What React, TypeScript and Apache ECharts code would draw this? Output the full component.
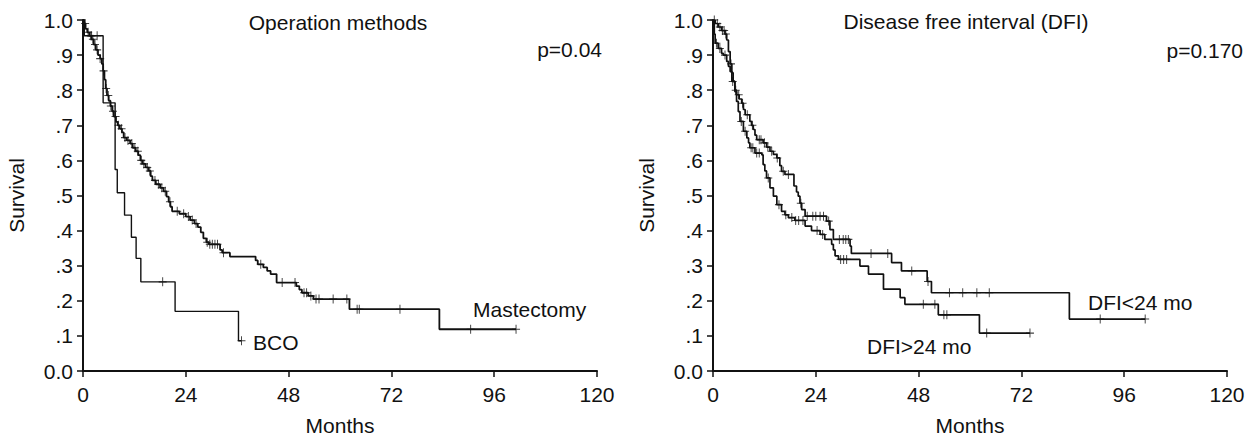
import React, { useEffect, useRef } from "react";
import * as echarts from "echarts";

// ---------- data ----------
const monthTicks = [0, 24, 48, 72, 96, 120];
const survivalTickLabels = ["0.0", ".1", ".2", ".3", ".4", ".5", ".6", ".7", ".8", ".9", "1.0"];

// Operation methods: Mastectomy (time in months, survival after drop)
const mastectomySteps: [number, number][] = [
  [0, 1.0], [0.3, 0.99], [0.6, 0.975], [1.0, 0.965], [1.5, 0.955], [2.0, 0.945], [2.5, 0.93],
  [3.0, 0.915], [3.5, 0.9], [4.0, 0.89], [4.4, 0.875], [4.7, 0.855], [5.0, 0.83], [5.3, 0.805],
  [5.6, 0.785], [6.0, 0.77], [6.4, 0.755], [6.8, 0.74], [7.2, 0.725], [7.7, 0.71], [8.1, 0.7],
  [8.6, 0.69], [9.1, 0.68], [9.5, 0.665], [10.2, 0.657], [11.0, 0.648], [11.6, 0.636], [12.3, 0.626],
  [12.9, 0.615], [13.4, 0.6], [13.9, 0.59], [14.6, 0.58], [15.3, 0.57], [15.8, 0.555], [16.2, 0.543],
  [17.0, 0.532], [18.0, 0.522], [18.8, 0.512], [19.5, 0.497], [20.0, 0.482], [20.4, 0.468],
  [20.8, 0.455], [22.5, 0.448], [24.0, 0.44], [25.0, 0.43], [26.0, 0.42], [26.8, 0.41], [27.5, 0.395],
  [28.1, 0.378], [28.8, 0.367], [29.4, 0.361], [32.0, 0.345], [32.5, 0.337], [34.3, 0.326],
  [40.3, 0.315], [40.8, 0.304], [42.1, 0.295], [43.0, 0.285], [43.8, 0.276], [45.2, 0.252],
  [49.8, 0.242], [50.5, 0.232], [51.1, 0.223], [52.6, 0.214], [53.8, 0.205], [62.2, 0.176],
  [83.2, 0.119], [101.1, 0.119],
];
const mastectomyCensored = [
  0.5, 1.2, 1.8, 2.3, 2.8, 3.3, 4.0, 4.8, 5.4, 5.9, 6.5, 7.0, 7.6, 8.3, 9.0, 9.8, 10.5, 11.4, 12.1,
  12.8, 13.6, 14.2, 15.0, 15.6, 16.8, 17.6, 18.4, 19.2, 20.3, 22.0, 23.5, 24.6, 25.5, 26.4, 29.0,
  29.6, 30.2, 30.8, 31.4, 32.8, 41.5, 46.5, 49.5, 51.6, 52.2, 53.2, 54.4, 55.1, 58.4, 61.6, 64.0,
  64.5, 74.0, 90.5, 101.1,
];

// Operation methods: BCO
const bcoSteps: [number, number][] = [
  [0, 1.0], [0.3, 0.955], [4.7, 0.764], [7.5, 0.574], [8.0, 0.508], [9.7, 0.444], [11.3, 0.381],
  [12.4, 0.321], [13.5, 0.254], [21.5, 0.17], [36.3, 0.086], [37.0, 0.086],
];
const bcoCensored = [2.0, 3.3, 18.6, 37.0];

// Disease free interval: DFI<24 mo
const dfiShortSteps: [number, number][] = [
  [0, 1.0], [0.5, 0.99], [1.2, 0.98], [2.0, 0.97], [2.8, 0.96], [3.2, 0.943], [3.6, 0.91],
  [4.0, 0.875], [4.4, 0.85], [4.7, 0.825], [5.1, 0.8], [5.5, 0.787], [6.1, 0.775], [6.7, 0.763],
  [7.1, 0.745], [7.5, 0.73], [8.6, 0.711], [9.0, 0.7], [9.4, 0.688], [9.8, 0.672], [10.2, 0.659],
  [11.7, 0.65], [12.5, 0.638], [13.3, 0.626], [14.1, 0.617], [14.9, 0.607], [15.6, 0.585],
  [16.0, 0.569], [16.8, 0.56], [18.9, 0.527], [19.5, 0.51], [19.9, 0.498], [20.3, 0.478],
  [20.7, 0.46], [21.5, 0.441], [26.5, 0.427], [27.3, 0.403], [28.1, 0.375], [32.0, 0.356],
  [32.3, 0.335], [41.7, 0.309], [44.0, 0.285], [50.0, 0.255], [51.0, 0.223], [83.2, 0.148],
  [100.9, 0.148],
];
const dfiShortCensored = [
  0.3, 1.0, 1.6, 2.2, 2.6, 3.0, 4.2, 5.3, 6.0, 6.9, 8.0, 9.2, 10.8, 11.2, 12.0, 12.8, 13.7, 15.0,
  16.4, 17.6, 20.5, 22.0, 23.3, 24.0, 25.0, 25.8, 27.0, 29.5, 30.4, 31.0, 31.6, 36.9, 40.8, 46.4,
  50.2, 55.2, 58.3, 61.6, 64.5, 90.4, 100.9,
];

// Disease free interval: DFI>24 mo
const dfiLongSteps: [number, number][] = [
  [0, 1.0], [0.3, 0.96], [0.5, 0.934], [1.2, 0.919], [2.0, 0.905], [2.4, 0.9], [3.2, 0.882],
  [3.6, 0.868], [4.0, 0.853], [4.4, 0.825], [5.1, 0.796], [5.5, 0.768], [5.9, 0.739], [6.3, 0.711],
  [7.1, 0.683], [7.9, 0.664], [8.3, 0.65], [8.6, 0.636], [9.8, 0.621], [11.4, 0.616], [11.7, 0.588],
  [12.1, 0.57], [12.5, 0.55], [13.3, 0.522], [14.1, 0.498], [14.9, 0.474], [16.0, 0.455],
  [16.8, 0.445], [17.6, 0.437], [19.1, 0.429], [21.5, 0.413], [23.0, 0.4], [25.0, 0.389],
  [26.1, 0.375], [27.7, 0.361], [28.1, 0.345], [28.5, 0.328], [29.3, 0.318], [34.3, 0.299],
  [36.3, 0.276], [39.8, 0.233], [43.7, 0.209], [44.8, 0.19], [52.6, 0.16], [62.2, 0.108],
  [74.0, 0.108],
];
const dfiLongCensored = [
  0.8, 1.6, 2.8, 4.6, 6.6, 7.5, 8.9, 9.3, 10.2, 10.8, 12.9, 15.4, 17.0, 18.4, 19.3, 20.0, 21.0,
  24.3, 25.6, 29.8, 30.5, 31.2, 49.1, 51.8, 53.9, 54.6, 63.9, 74.0,
];

// ---------- helpers ----------
const FONT = "'Liberation Sans', Arial, Helvetica, sans-serif";
const FS = 21;
const PLUS =
  "path://M-0.12,-1L0.12,-1L0.12,-0.12L1,-0.12L1,0.12L0.12,0.12L0.12,1L-0.12,1L-0.12,0.12L-1,0.12L-1,-0.12L-0.12,-0.12Z";

function survivalAt(steps: [number, number][], t: number): number {
  let s = steps[0][1];
  for (const [st, sv] of steps) {
    if (st <= t) s = sv;
    else break;
  }
  return s;
}

function curve(steps: [number, number][], idx: number, width: number) {
  return {
    type: "line",
    step: "end",
    xAxisIndex: idx,
    yAxisIndex: idx,
    data: steps,
    showSymbol: false,
    silent: true,
    lineStyle: { color: "#111", width },
    z: 3,
  };
}

function censors(steps: [number, number][], times: number[], idx: number) {
  return {
    type: "scatter",
    xAxisIndex: idx,
    yAxisIndex: idx,
    data: times.map((t) => [t, survivalAt(steps, t)]),
    symbol: PLUS,
    symbolSize: [8, 9],
    itemStyle: { color: "#111" },
    silent: true,
    z: 4,
  };
}

function xAxis(gridIndex: number) {
  return {
    type: "value",
    gridIndex,
    min: 0,
    max: 120,
    interval: 24,
    name: "Months",
    nameLocation: "middle",
    nameGap: 44,
    nameTextStyle: { fontFamily: FONT, fontSize: FS, color: "#111" },
    axisLine: { show: true, onZero: false, lineStyle: { color: "#111", width: 2 } },
    axisTick: { show: true, length: 6, lineStyle: { color: "#111", width: 1.5 } },
    axisLabel: {
      fontFamily: FONT,
      fontSize: FS,
      color: "#111",
      margin: 13,
      formatter: (v: number) => (monthTicks.includes(v) ? String(v) : ""),
    },
    splitLine: { show: false },
  };
}

function yAxis(gridIndex: number) {
  return {
    type: "value",
    gridIndex,
    min: 0,
    max: 1,
    interval: 0.1,
    name: "Survival",
    nameLocation: "middle",
    nameGap: 56,
    nameTextStyle: { fontFamily: FONT, fontSize: FS, color: "#111" },
    axisLine: { show: true, lineStyle: { color: "#111", width: 2 } },
    axisTick: { show: true, length: 6, lineStyle: { color: "#111", width: 1.5 } },
    axisLabel: {
      fontFamily: FONT,
      fontSize: FS,
      color: "#111",
      margin: 10,
      formatter: (v: number) => survivalTickLabels[Math.round(v * 10)],
    },
    splitLine: { show: false },
  };
}

function label(text: string, x: number, y: number, align: string) {
  return {
    type: "text",
    x,
    y,
    silent: true,
    style: {
      text,
      fill: "#111",
      font: `${FS}px ${FONT}`,
      textAlign: align,
      textVerticalAlign: "middle",
      align,
      verticalAlign: "middle",
    },
    z: 10,
  };
}

export default function App() {
  const ref = useRef<HTMLDivElement>(null);

  useEffect(() => {
    if (!ref.current) return;
    const chart = echarts.init(ref.current, undefined, { renderer: "svg" });
    chart.setOption({
      animation: false,
      backgroundColor: "#ffffff",
      grid: [
        { left: 83, top: 20, width: 514, height: 352 },
        { left: 713, top: 20, width: 514, height: 352 },
      ],
      xAxis: [xAxis(0), xAxis(1)],
      yAxis: [yAxis(0), yAxis(1)],
      series: [
        curve(bcoSteps, 0, 1.4),
        curve(mastectomySteps, 0, 1.8),
        censors(bcoSteps, bcoCensored, 0),
        censors(mastectomySteps, mastectomyCensored, 0),
        curve(dfiShortSteps, 1, 1.7),
        curve(dfiLongSteps, 1, 1.7),
        censors(dfiShortSteps, dfiShortCensored, 1),
        censors(dfiLongSteps, dfiLongCensored, 1),
      ],
      graphic: [
        label("Operation methods", 338, 22, "center"),
        label("p=0.04", 602, 49, "right"),
        label("BCO", 253, 342, "left"),
        label("Mastectomy", 473, 309, "left"),
        label("Disease free interval (DFI)", 966, 21, "center"),
        label("p=0.170", 1243, 50, "right"),
        label("DFI<24 mo", 1088, 302, "left"),
        label("DFI>24 mo", 867, 346, "left"),
      ],
    });
    return () => chart.dispose();
  }, []);

  return (
    <div
      ref={ref}
      style={{ position: "absolute", left: 0, top: 0, width: 1259, height: 441, background: "#fff" }}
    />
  );
}
